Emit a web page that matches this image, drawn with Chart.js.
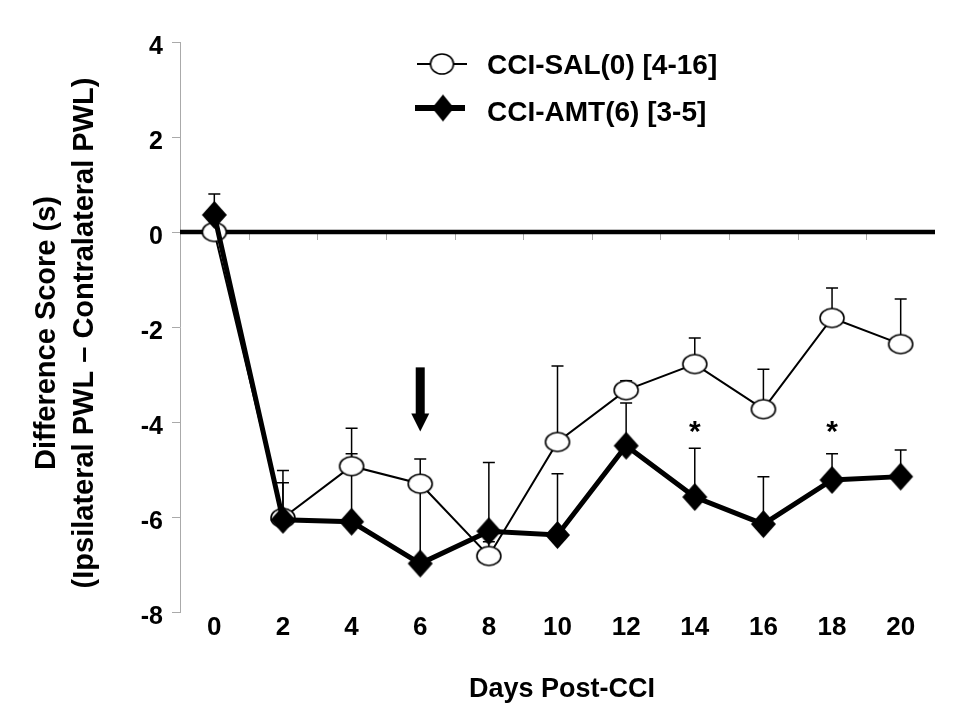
<!DOCTYPE html>
<html>
<head>
<meta charset="utf-8">
<script src="https://cdn.jsdelivr.net/npm/chart.js@4.4.1/dist/chart.umd.min.js"></script>
<style>
  html, body { margin: 0; padding: 0; background: #fff; }
  #wrap { width: 956px; height: 715px; }
</style>
</head>
<body>
<div id="wrap"><canvas id="chart"></canvas></div>
<script>
// data
const days = [0, 2, 4, 6, 8, 10, 12, 14, 16, 18, 20];
const salMean = [0, -6.02, -4.93, -5.3, -6.82, -4.42, -3.33, -2.78, -3.73, -1.81, -2.36];
const salErr  = [0, 1.0, 0.8, 0.52, 0.3, 1.6, 0.2, 0.55, 0.84, 0.63, 0.95];
const amtMean = [0.36, -6.06, -6.1, -6.98, -6.3, -6.38, -4.5, -5.58, -6.15, -5.22, -5.15];
const amtErr  = [0.44, 0.78, 1.43, 1.7, 1.45, 1.29, 0.9, 1.03, 1.0, 0.55, 0.56];
const yTicks = [-8, -6, -4, -2, 0, 2, 4];
const starDays = [14, 18];
const starLevel = -4.05;
const arrowDay = 6, arrowTop = -2.85, arrowTip = -4.2;
const salLabel = 'CCI-SAL(0) [4-16]';
const amtLabel = 'CCI-AMT(6) [3-5]';

const font = "'Liberation Sans', Arial, sans-serif";

function ellipseMarker(rx, ry) {
  const c = document.createElement('canvas');
  c.width = Math.ceil(rx * 2 + 4); c.height = Math.ceil(ry * 2 + 4);
  const g = c.getContext('2d');
  g.beginPath();
  g.ellipse(c.width / 2, c.height / 2, rx, ry, 0, 0, Math.PI * 2);
  g.fillStyle = '#fff'; g.fill();
  g.lineWidth = 1.6; g.strokeStyle = '#000'; g.stroke();
  return c;
}
function diamondMarker(hw, hh) {
  const c = document.createElement('canvas');
  c.width = Math.ceil(hw * 2 + 2); c.height = Math.ceil(hh * 2 + 2);
  const g = c.getContext('2d');
  const cx = c.width / 2, cy = c.height / 2;
  g.beginPath();
  g.moveTo(cx, cy - hh); g.lineTo(cx + hw, cy); g.lineTo(cx, cy + hh); g.lineTo(cx - hw, cy);
  g.closePath();
  g.fillStyle = '#000'; g.fill();
  return c;
}
const circleImg = ellipseMarker(12, 9.5);
const diamondImg = diamondMarker(12.5, 14);
const legCircle = ellipseMarker(11.5, 10);
const legDiamond = diamondMarker(11, 13.5);

const extras = {
  id: 'extras',
  beforeDatasetsDraw(chart) {
    const { ctx, chartArea: a, scales: { x, y } } = chart;
    ctx.save();
    // zero reference line with small ticks
    const y0 = y.getPixelForValue(0);
    ctx.strokeStyle = '#aaa'; ctx.lineWidth = 1;
    for (let d = 1; d < 21; d += 2) {
      const px = Math.round(x.getPixelForValue(d)) + 0.5;
      ctx.beginPath(); ctx.moveTo(px, y0); ctx.lineTo(px, y0 + 8); ctx.stroke();
    }
    ctx.strokeStyle = '#000'; ctx.lineWidth = 4.5;
    ctx.beginPath(); ctx.moveTo(a.left, y0); ctx.lineTo(a.right, y0); ctx.stroke();
    // upward error bars
    ctx.lineWidth = 1.5;
    const bars = (means, errs) => {
      days.forEach((d, i) => {
        if (!errs[i]) return;
        const px = x.getPixelForValue(d);
        const pb = y.getPixelForValue(means[i]);
        const pt = y.getPixelForValue(means[i] + errs[i]);
        ctx.beginPath();
        ctx.moveTo(px, pb); ctx.lineTo(px, pt);
        ctx.moveTo(px - 6, pt); ctx.lineTo(px + 6, pt);
        ctx.stroke();
      });
    };
    bars(salMean, salErr);
    bars(amtMean, amtErr);
    ctx.restore();
  },
  afterDatasetsDraw(chart) {
    const { ctx, scales: { x, y } } = chart;
    ctx.save();
    // arrow at start of treatment
    const ax = x.getPixelForValue(arrowDay);
    const at = y.getPixelForValue(arrowTop);
    const tip = y.getPixelForValue(arrowTip);
    ctx.fillStyle = '#000';
    ctx.fillRect(ax - 4.5, at, 9, tip - at - 17);
    ctx.beginPath();
    ctx.moveTo(ax - 9, tip - 18); ctx.lineTo(ax + 9, tip - 18); ctx.lineTo(ax, tip);
    ctx.closePath(); ctx.fill();
    // significance stars
    ctx.font = 'bold 30px ' + font;
    ctx.textAlign = 'center'; ctx.textBaseline = 'alphabetic';
    starDays.forEach(d => {
      ctx.fillText('*', x.getPixelForValue(d), y.getPixelForValue(starLevel) + 17);
    });
    // legend
    ctx.strokeStyle = '#000';
    ctx.lineWidth = 2;
    ctx.beginPath(); ctx.moveTo(417, 64); ctx.lineTo(467, 64); ctx.stroke();
    ctx.drawImage(legCircle, 442 - legCircle.width / 2, 64 - legCircle.height / 2);
    ctx.lineWidth = 6;
    ctx.beginPath(); ctx.moveTo(415, 108); ctx.lineTo(465, 108); ctx.stroke();
    ctx.drawImage(legDiamond, 443 - legDiamond.width / 2, 108 - legDiamond.height / 2);
    ctx.font = 'bold 28px ' + font;
    ctx.textAlign = 'left'; ctx.textBaseline = 'middle';
    ctx.fillText(salLabel, 487, 66);
    ctx.fillText(amtLabel, 487, 113);
    // axis titles
    ctx.font = 'bold 27px ' + font;
    ctx.textAlign = 'center';
    ctx.fillText('Days Post-CCI', 562, 690);
    ctx.translate(0, 333);
    ctx.rotate(-Math.PI / 2);
    ctx.font = 'bold 29px ' + font;
    ctx.fillText('Difference Score (s)', 0, 47);
    ctx.fillText('(Ipsilateral PWL \u2013 Contralateral PWL)', 0, 85);
    ctx.restore();
  }
};

new Chart(document.getElementById('chart'), {
  type: 'line',
  data: {
    datasets: [
      {
        label: salLabel,
        data: days.map((d, i) => ({ x: d, y: salMean[i] })),
        borderColor: '#000', borderWidth: 2, tension: 0,
        pointStyle: circleImg, pointRadius: 11, pointHoverRadius: 11,
        order: 1
      },
      {
        label: amtLabel,
        data: days.map((d, i) => ({ x: d, y: amtMean[i] })),
        borderColor: '#000', borderWidth: 5, tension: 0,
        pointStyle: diamondImg, pointRadius: 13, pointHoverRadius: 13,
        order: 0
      }
    ]
  },
  options: {
    responsive: true,
    maintainAspectRatio: false,
    animation: false,
    layout: { padding: { left: 0, top: 42, right: 21, bottom: 0 } },
    plugins: { legend: { display: false }, tooltip: { enabled: false } },
    scales: {
      x: {
        type: 'linear', min: -1, max: 21,
        afterBuildTicks: s => { s.ticks = days.map(v => ({ value: v })); },
        afterFit: s => { s.height = 103; },
        grid: { display: false, drawTicks: false },
        border: { display: false },
        ticks: { color: '#000', font: { family: font, size: 26, weight: 'bold' }, padding: 0, autoSkip: false, maxRotation: 0 }
      },
      y: {
        min: -8, max: 4,
        afterBuildTicks: s => { s.ticks = yTicks.map(v => ({ value: v })); },
        afterFit: s => { s.width = 180; },
        grid: { drawOnChartArea: false, drawTicks: true, tickLength: 8, color: '#aaa' },
        border: { display: true, color: '#aaa', width: 1 },
        ticks: { color: '#000', font: { family: font, size: 25, weight: 'bold' }, padding: 9, labelOffset: 5 }
      }
    }
  },
  plugins: [extras]
});
</script>
</body>
</html>
